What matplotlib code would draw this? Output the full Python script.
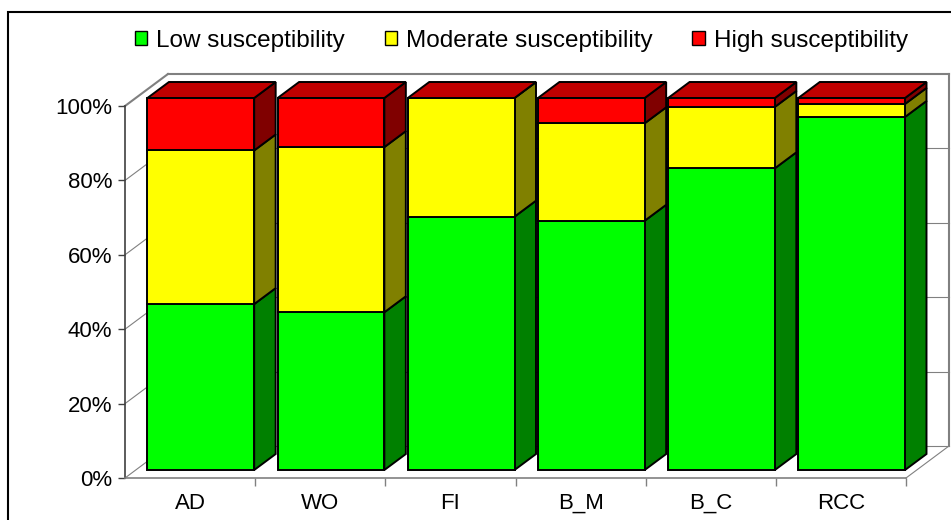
import matplotlib
matplotlib.use('Agg')
import matplotlib.pyplot as plt
from matplotlib.patches import Polygon, Rectangle, Patch
import numpy as np

categories = ['AD', 'WO', 'FI', 'B_M', 'B_C', 'RCC']
low = [44.6, 42.4, 68.1, 67.0, 81.1, 94.9]
moderate = [41.3, 44.4, 31.9, 26.2, 16.5, 3.5]
high = [14.1, 13.2, 0.0, 6.8, 2.4, 1.6]
series_names = ['Low susceptibility', 'Moderate susceptibility', 'High susceptibility']
front_colors = ['#00ff00', '#ffff00', '#ff0000']
side_colors = ['#008000', '#808000', '#800000']
top_color = '#c00000'
y_ticks = [0, 20, 40, 60, 80, 100]

plt.rcParams['font.family'] = ['Liberation Sans', 'DejaVu Sans']

# depth of the fake 3d box, in data units
DX = 0.33
DY = 8.6
bar_w = 0.82
wall_grey = '#808080'

fig = plt.figure(figsize=(9.51, 5.2), dpi=100)
ax = fig.add_axes([125 / 951, 42 / 520, 781 / 951, 372 / 520])
ax.set_xlim(0, len(categories))
ax.set_ylim(0, 100)
ax.set_facecolor('none')

n = len(categories)

# walls and gridlines
for v in y_ticks:
    lw = 1.5 if v == 100 else 0.8
    ax.plot([0, DX], [v, v + DY], color=wall_grey, lw=lw, clip_on=False, zorder=1)
    ax.plot([DX, n + DX], [v + DY, v + DY], color=wall_grey, lw=lw, clip_on=False, zorder=1)
ax.plot([n + DX, n + DX], [DY, 100 + DY], color=wall_grey, lw=1.5, clip_on=False, zorder=1)
ax.plot([n, n + DX], [0, DY], color=wall_grey, lw=0.8, clip_on=False, zorder=1)

# bars
data = np.array([low, moderate, high])
bottoms = np.vstack([np.zeros(n), np.cumsum(data, axis=0)[:-1]])
sx, sy = 0.25 * DX, 0.25 * DY  # bars sit in the middle of the depth
bx, by = 0.5 * DX, 0.5 * DY

for i in range(n):
    z = 3 + i * 0.1
    x0 = i + 0.5 - bar_w / 2 + sx
    x1 = x0 + bar_w
    for k in range(3):
        b = bottoms[k, i] + sy
        t = b + data[k, i]
        side = Polygon([(x1, b), (x1 + bx, b + by), (x1 + bx, t + by), (x1, t)],
                       closed=True, fc=side_colors[k], ec='black', lw=1.4,
                       clip_on=False, zorder=z)
        ax.add_patch(side)
    t = bottoms[2, i] + data[2, i] + sy
    top = Polygon([(x0, t), (x0 + bx, t + by), (x1 + bx, t + by), (x1, t)],
                  closed=True, fc=top_color, ec='black', lw=1.4,
                  clip_on=False, zorder=z)
    ax.add_patch(top)
    for k in range(3):
        ax.bar(i + 0.5 + sx, data[k, i], width=bar_w, bottom=bottoms[k, i] + sy,
               color=front_colors[k], edgecolor='black', lw=1.4,
               clip_on=False, zorder=z + 0.05)

# axes
for s in ['top', 'right']:
    ax.spines[s].set_visible(False)
ax.spines['left'].set_color('#404040')
ax.spines['bottom'].set_color(wall_grey)
ax.spines['left'].set_linewidth(1.2)
ax.spines['bottom'].set_linewidth(1.2)

ax.set_yticks(y_ticks)
ax.set_yticklabels([f'{v}%' for v in y_ticks])
ax.tick_params(axis='y', length=5, width=1, color='#404040', labelsize=16, pad=4)

ax.set_xticks(np.arange(n) + 0.5)
ax.set_xticklabels(categories, va='baseline')
ax.set_xticks(np.arange(1, n + 1), minor=True)
ax.tick_params(axis='x', which='major', length=0, labelsize=16, pad=22)
ax.tick_params(axis='x', which='minor', length=6, width=1, color=wall_grey)

# legend
handles = [Patch(fc=c, ec='black', lw=1) for c in front_colors]
fig.legend(handles, series_names, loc='center', bbox_to_anchor=(0.548, 1 - 41 / 520),
           ncol=3, frameon=False, fontsize=17.5, handlelength=0.5, handleheight=0.5,
           handletextpad=0.37, columnspacing=1.65)

# outer chart frame
fig.patches.append(Rectangle((8 / 951, -0.1), 1.1, 1.1 - 12 / 520, transform=fig.transFigure,
                             fill=False, ec='black', lw=1.5))

fig.savefig('out.png', dpi=100)
